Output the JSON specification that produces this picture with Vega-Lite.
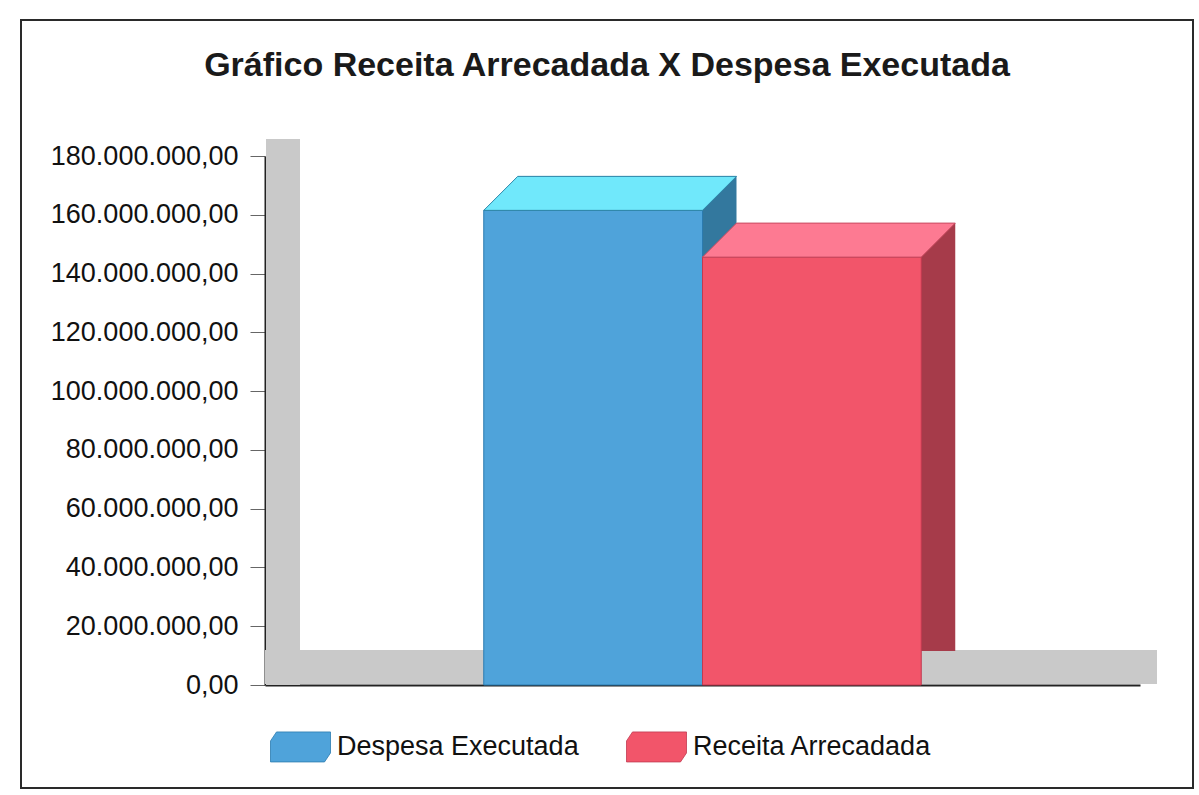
{
  "$schema": "https://vega.github.io/schema/vega-lite/v6.json",
  "width": 1172,
  "height": 768,
  "autosize": {"type": "none"},
  "padding": {"left": 21, "top": 20, "right": 6, "bottom": 7},
  "background": "white",
  "config": {
    "view": {"fill": "white", "stroke": "#2a2a2a", "strokeWidth": 2},
    "locale": {"number": {"decimal": ",", "thousands": ".", "grouping": [3], "currency": ["R$ ", ""]}},
    "font": "Liberation Sans"
  },
  "title": {
    "text": "Gráfico Receita Arrecadada X Despesa Executada",
    "font": "Liberation Sans",
    "fontSize": 34,
    "fontWeight": "bold",
    "color": "#1a1a1a",
    "anchor": "middle",
    "baseline": "alphabetic",
    "offset": -90
  },
  "data": {"values": [
    {"grupo": "Despesa Executada", "valor": 161500000},
    {"grupo": "Receita Arrecadada", "valor": 145600000}
  ]},
  "layer": [
    {
      "mark": {"type": "rule", "color": "#c9c9c9", "strokeWidth": 34, "yOffset": -18, "x2Offset": 17},
      "encoding": {
        "x": {"datum": "Despesa Executada", "type": "nominal", "bandPosition": -1,
              "scale": {"type": "band", "range": [244, 1119], "paddingOuter": 1, "paddingInner": 0},
              "axis": {"orient": "bottom", "offset": -103, "labels": false, "ticks": false, "title": null, "domainColor": "#222222", "domainWidth": 2}},
        "x2": {"datum": "Receita Arrecadada", "bandPosition": 2},
        "y": {"datum": 0, "type": "quantitative",
              "scale": {"domain": [0, 180000000], "range": [665, 136], "nice": false},
              "axis": {"orient": "left", "offset": -244, "title": null,
                       "values": [0, 20000000, 40000000, 60000000, 80000000, 100000000, 120000000, 140000000, 160000000, 180000000],
                       "format": ",.2f", "labelFont": "Liberation Sans", "labelFontSize": 27, "labelColor": "#111111",
                       "labelPadding": 12, "labelLimit": 400, "tickSize": 15, "tickColor": "#666666", "tickWidth": 1,
                       "domainColor": "#222222", "domainWidth": 2, "grid": false}}
      }
    },
    {
      "mark": {"type": "rule", "color": "#c9c9c9", "strokeWidth": 34, "xOffset": 18, "y2Offset": -17},
      "encoding": {
        "x": {"datum": "Despesa Executada", "type": "nominal", "bandPosition": -1},
        "y": {"datum": 0, "type": "quantitative"},
        "y2": {"datum": 180000000}
      }
    },
    {
      "mark": {"type": "bar", "xOffset": 34, "yOffset": -34, "y2Offset": -34},
      "encoding": {
        "x": {"field": "grupo", "type": "nominal"},
        "y": {"field": "valor", "type": "quantitative"},
        "color": {"field": "grupo", "type": "nominal", "scale": {"range": ["#33789e", "#a63b4a"]}, "legend": null}
      }
    },
    {
      "mark": {"type": "bar", "strokeWidth": 1},
      "encoding": {
        "x": {"field": "grupo", "type": "nominal"},
        "y": {"field": "valor", "type": "quantitative"},
        "color": {"field": "grupo", "type": "nominal", "scale": {"range": ["#4fa3da", "#f2556a"]},
                  "legend": {"orient": "none", "legendX": 249, "legendY": 696, "direction": "horizontal", "title": null,
                             "padding": 0, "symbolType": "M-1,-0.2L-0.8,-0.5L1,-0.5L1,0.2L0.8,0.5L-1,0.5Z",
                             "symbolSize": 3600, "symbolStrokeColor": "#555555", "symbolStrokeWidth": 0.8, "symbolOpacity": 1,
                             "labelFont": "Liberation Sans", "labelFontSize": 27, "labelColor": "#111111",
                             "labelOffset": 6, "columnPadding": 45, "labelLimit": 400}},
        "stroke": {"field": "grupo", "type": "nominal", "scale": {"range": ["#2b7bb0", "#c23a50"]}, "legend": null}
      }
    },
    {
      "mark": {"type": "point", "shape": "M-1,0.1345L0.731,0.1345L1,-0.1345L-0.731,-0.1345Z", "size": 63883,
               "filled": true, "opacity": 1, "xOffset": 17, "yOffset": -17, "strokeWidth": 1},
      "encoding": {
        "x": {"field": "grupo", "type": "nominal"},
        "y": {"field": "valor", "type": "quantitative"},
        "color": {"field": "grupo", "type": "nominal", "scale": {"range": ["#70e8fb", "#fd7a92"]}, "legend": null},
        "stroke": {"field": "grupo", "type": "nominal", "scale": {"range": ["#2f86a8", "#c84a60"]}, "legend": null}
      }
    }
  ],
  "resolve": {"scale": {"color": "independent", "stroke": "independent"}}
}
